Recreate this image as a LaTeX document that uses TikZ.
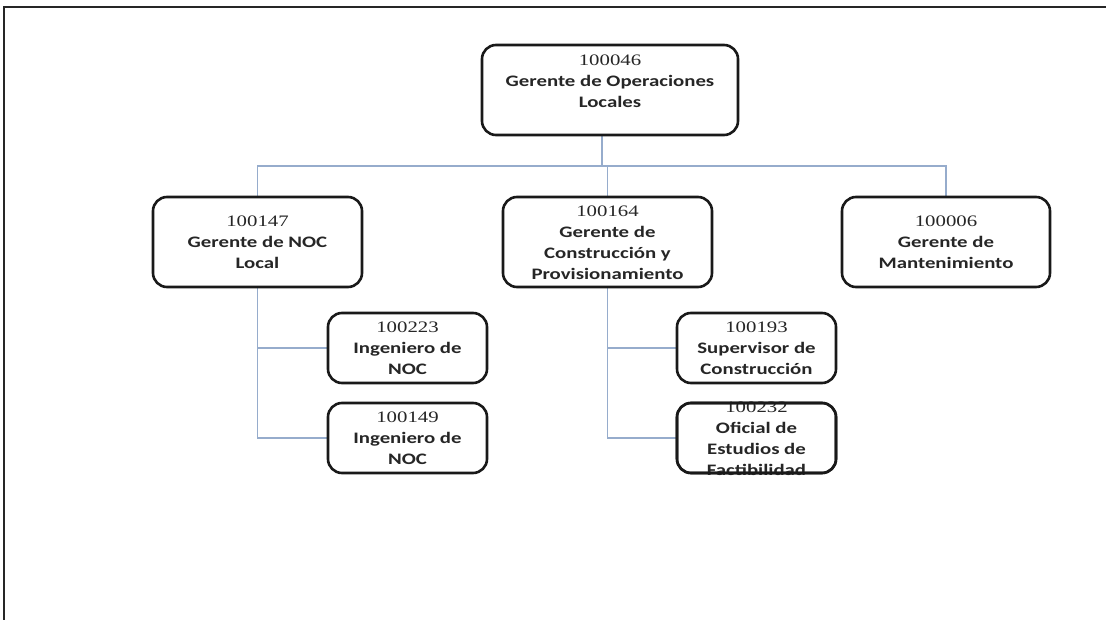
\documentclass[tikz,border=0pt]{standalone}
\usepackage{fontspec}
\setmainfont{Carlito}[FakeStretch=1.3]
\newfontfamily\numfont{Liberation Serif}[FakeStretch=1.3]
\usetikzlibrary{positioning,backgrounds}
\definecolor{linkblue}{RGB}{150,172,204}
\newcommand{\lines}[2][-6pt]{\smash{\raisebox{#1}{\begin{tabular}{@{}c@{}}#2\end{tabular}}}}
\newcommand{\num}[1]{{\numfont\mdseries #1}}

\begin{document}
\begin{tikzpicture}[x=1pt,y=-1pt,node distance=90pt,on grid,
    card/.style={draw=black!90,line width=2.6pt,rounded corners=14pt,fill=white,
      inner sep=0pt,outer sep=0pt,minimum width=209pt,minimum height=90pt,
      text=black!85,font=\bfseries\fontsize{16}{21}\selectfont},
    small/.style={card,minimum width=159pt,minimum height=70pt},
    link/.style={draw=linkblue,line width=1.2pt}]
  \useasboundingbox (0,0) rectangle (1106,620);
  \draw[line width=2.5pt,black!85] (4,620) |- (1106,7);

  \node[card,minimum width=256pt] (gol) at (610,90)
    {\lines[3pt]{\num{100046}\\Gerente de Operaciones\\Locales}\hspace{18pt}};
  \node[card] (noc) at (257.5,242) {\lines{\num{100147}\\Gerente de NOC\\Local}};
  \node[card,right=350pt of noc] (cons)
    {\lines{\num{100164}\\Gerente de\\Construcción y\\Provisionamiento}};
  \node[card,minimum width=208pt,right=338.5pt of cons] (mant)
    {\lines{\num{100006}\\Gerente de\\Mantenimiento}};
  \node[small] (ing1) at (407.5,348) {\lines{\num{100223}\\Ingeniero de\\NOC}};
  \node[small,below=of ing1] (ing2) {\lines{\num{100149}\\Ingeniero de\\NOC}};
  \node[small,right=349pt of ing1] (sup) {\lines{\num{100193}\\Supervisor de\\Construcción}};
  \node[small,below=of sup] (ofi)
    {\lines[-6pt]{\num{100232}\\Oficial de\\Estudios de\\Factibilidad}};
  \draw[line width=2.6pt,black!90,rounded corners=14pt] (ofi.south west) rectangle (ofi.north east);

  \begin{scope}[on background layer]
    \coordinate (bus) at (602,166);
    \draw[link] (gol.south -| bus) -- (bus);
    \draw[link] (noc.north) |- (bus) -| (mant.north);
    \draw[link] (cons.north) -- (cons.north |- bus);
    \draw[link] (noc.south) |- (ing2.west);
    \draw[link] (noc.south |- ing1.west) -- (ing1.west);
    \draw[link] (cons.south) |- (ofi.west);
    \draw[link] (cons.south |- sup.west) -- (sup.west);
  \end{scope}
\end{tikzpicture}
\end{document}
